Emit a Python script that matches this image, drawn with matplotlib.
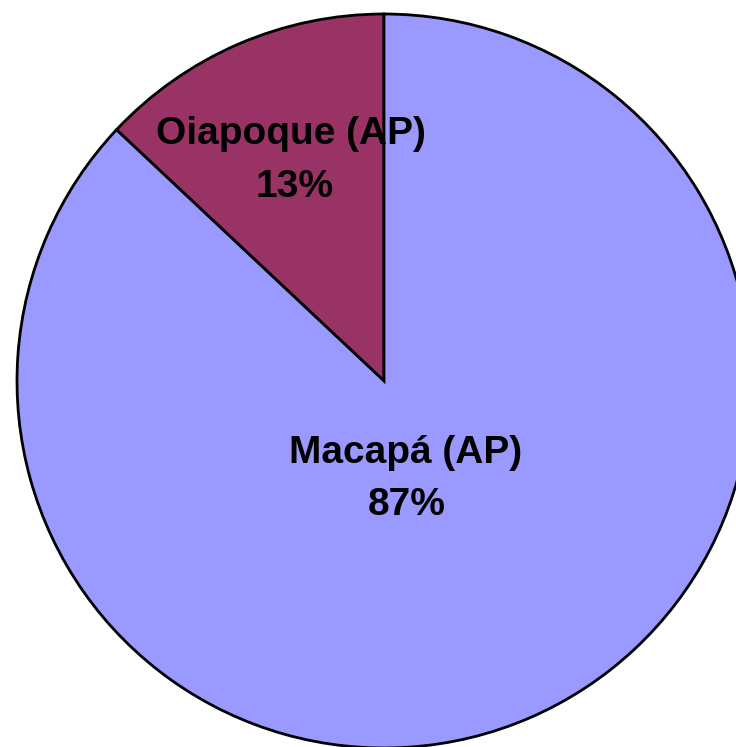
import matplotlib
matplotlib.use("Agg")
import matplotlib.pyplot as plt

categories = ["Oiapoque (AP)", "Macapá (AP)"]
values = [13, 87]
colors = ["#993366", "#9999FF"]

W, H = 736, 747
cx, cy, R = 384, 381, 367

fig = plt.figure(figsize=(W/100, H/100), dpi=100)
ax = fig.add_axes([0, 0, 1, 1])
ax.pie(values, colors=colors, startangle=90, counterclock=True,
       wedgeprops=dict(edgecolor="black", linewidth=2), radius=1.0)
ax.set_xlim(-cx/R, (W-cx)/R)
ax.set_ylim(-(H-cy)/R, cy/R)
ax.set_aspect("equal")
ax.axis("off")

def px(x, y):
    return (x-cx)/R, (cy-y)/R

label_pos = [((291, 134), (295, 187)), ((406, 453), (407, 505))]
for cat, val, (p1, p2) in zip(categories, values, label_pos):
    ax.text(*px(*p1), cat, ha="center", va="center", fontsize=28,
            fontweight="bold", family="Liberation Sans")
    ax.text(*px(*p2), f"{val}%", ha="center", va="center", fontsize=28,
            fontweight="bold", family="Liberation Sans")

fig.savefig("out.png", dpi=100)
